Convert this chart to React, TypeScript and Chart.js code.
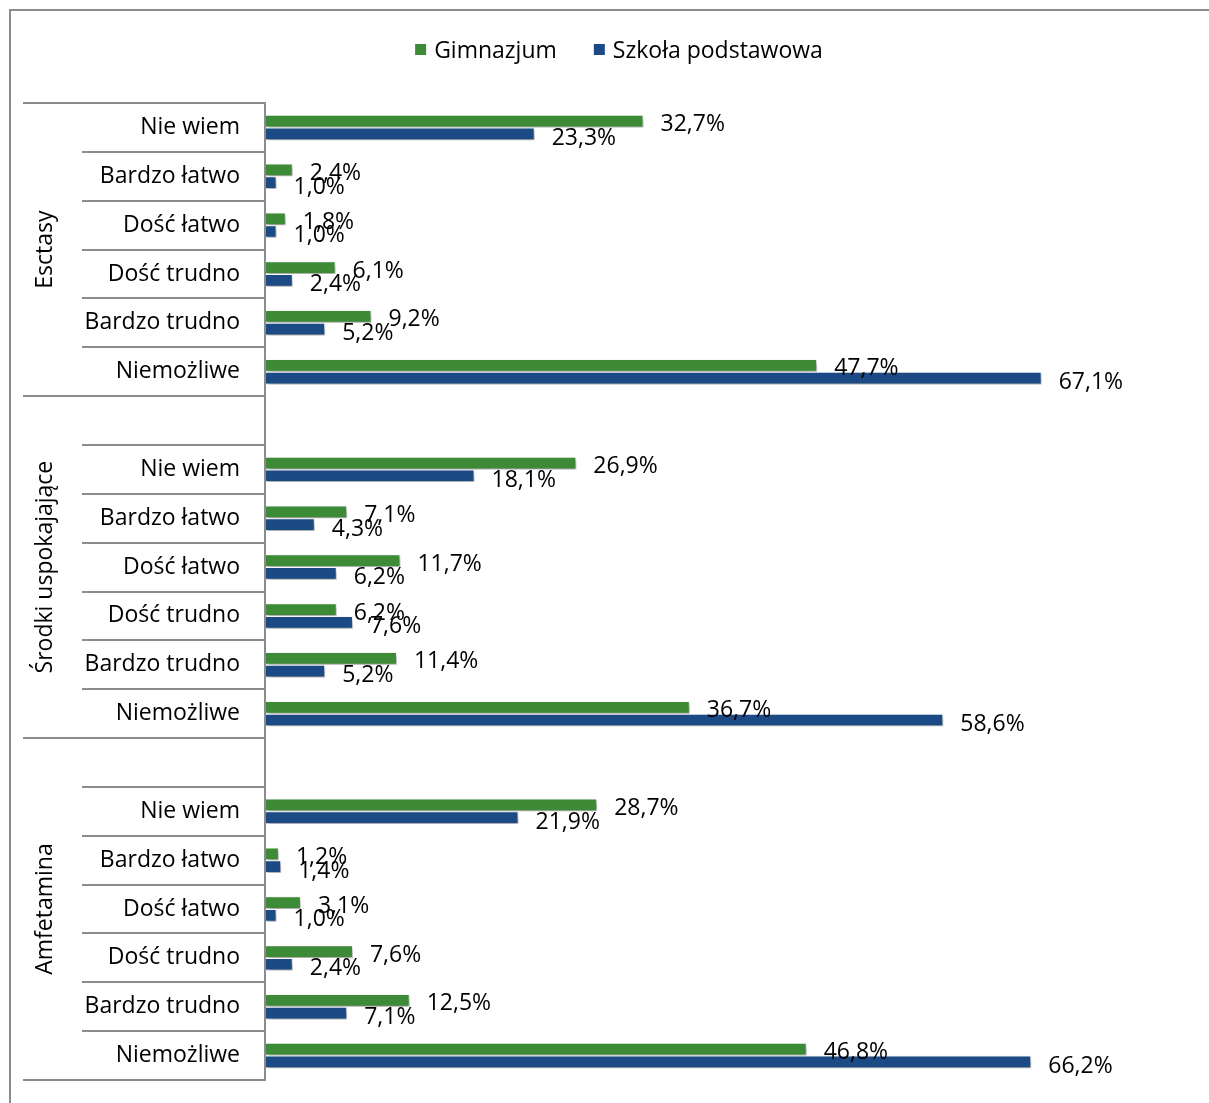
import React, { useEffect, useRef } from 'react';
import { Chart, registerables } from 'chart.js';

Chart.register(...registerables);

// ---- data ----
const groups = ['Esctasy', 'Środki uspokajające', 'Amfetamina'];
const answers = ['Nie wiem', 'Bardzo łatwo', 'Dość łatwo', 'Dość trudno', 'Bardzo trudno', 'Niemożliwe'];
const seriesNames = ['Gimnazjum', 'Szkoła podstawowa'];
const seriesColors = ['#3d8b37', '#1b4a85'];

const gimEcstasy = [32.7, 2.4, 1.8, 6.1, 9.2, 47.7];
const gimSrodki = [26.9, 7.1, 11.7, 6.2, 11.4, 36.7];
const gimAmfetamina = [28.7, 1.2, 3.1, 7.6, 12.5, 46.8];

const spEcstasy = [23.3, 1.0, 1.0, 2.4, 5.2, 67.1];
const spSrodki = [18.1, 4.3, 6.2, 7.6, 5.2, 58.6];
const spAmfetamina = [21.9, 1.4, 1.0, 2.4, 7.1, 66.2];

const axisMin = 0;
const axisMax = 80;

const FONT = "'Open Sans', 'Noto Sans', sans-serif";
const FS = 23;
const GRAY = '#8c8c8c';

const fmt = (v: number) => v.toFixed(1).replace('.', ',') + '%';

export default function App() {
  const ref = useRef<HTMLCanvasElement>(null);

  useEffect(() => {
    const canvas = ref.current;
    if (!canvas) return;

    // rows: group 1 (6 rows), blank + group 2, blank + group 3
    const rowLabels: string[] = [...answers, '', ...answers, '', ...answers];
    const gim: (number | null)[] = [...gimEcstasy, null, ...gimSrodki, null, ...gimAmfetamina];
    const sp: (number | null)[] = [...spEcstasy, null, ...spSrodki, null, ...spAmfetamina];
    const n1 = answers.length;
    const groupBounds = [0, n1, n1 + 1 + n1, n1 + 1 + n1 + 1 + n1];

    const decor = {
      id: 'decor',
      beforeDatasetsDraw(chart: any) {
        const ctx = chart.ctx;
        ctx.save();
        ctx.shadowColor = 'rgba(0,0,0,0.38)';
        ctx.shadowBlur = 5;
        ctx.shadowOffsetX = 2;
        ctx.shadowOffsetY = 3;
      },
      afterDatasetsDraw(chart: any) {
        const ctx = chart.ctx;
        ctx.restore();
        ctx.save();
        ctx.font = `${FS}px ${FONT}`;
        ctx.fillStyle = '#000';
        ctx.textAlign = 'left';
        ctx.textBaseline = 'alphabetic';
        chart.data.datasets.forEach((ds: any, di: number) => {
          const meta = chart.getDatasetMeta(di);
          meta.data.forEach((el: any, i: number) => {
            const v = ds.data[i];
            if (v == null) return;
            ctx.fillText(fmt(v), el.x + 17, el.y + 10 + di);
          });
        });
        ctx.restore();
      },
      afterDraw(chart: any) {
        const ctx = chart.ctx;
        const y = chart.scales.y;
        const area = chart.chartArea;
        const half = (y.getPixelForValue(1) - y.getPixelForValue(0)) / 2;
        const boundary = (i: number) =>
          i < rowLabels.length ? y.getPixelForValue(i) - half : y.getPixelForValue(rowLabels.length - 1) + half;

        ctx.save();
        // outer frame
        ctx.strokeStyle = GRAY;
        ctx.lineWidth = 2;
        ctx.beginPath();
        ctx.moveTo(10, chart.height);
        ctx.lineTo(10, 10);
        ctx.lineTo(chart.width, 10);
        ctx.stroke();

        // row separators
        for (let i = 0; i <= rowLabels.length; i++) {
          const yy = Math.round(boundary(i));
          const isGroup = groupBounds.includes(i);
          ctx.beginPath();
          ctx.moveTo(isGroup ? 23 : 82, yy);
          ctx.lineTo(area.left, yy);
          ctx.stroke();
        }

        // group labels
        ctx.fillStyle = '#000';
        ctx.font = `${FS}px ${FONT}`;
        ctx.textAlign = 'center';
        ctx.textBaseline = 'alphabetic';
        groups.forEach((g, gi) => {
          const cy = (boundary(groupBounds[gi]) + boundary(groupBounds[gi + 1])) / 2;
          ctx.save();
          ctx.translate(52, cy);
          ctx.rotate(-Math.PI / 2);
          ctx.fillText(g, 0, 0);
          ctx.restore();
        });

        // legend
        ctx.textAlign = 'left';
        const box = 11;
        const gapText = 8;
        const gapItem = 37;
        const widths = seriesNames.map((s) => ctx.measureText(s).width);
        const total = widths.reduce((a, w) => a + box + gapText + w, 0) + gapItem * (seriesNames.length - 1);
        let x = 619 - total / 2;
        seriesNames.forEach((s, si) => {
          ctx.fillStyle = seriesColors[si];
          ctx.fillRect(x, 44, box, box);
          ctx.fillStyle = '#000';
          ctx.fillText(s, x + box + gapText, 58);
          x += box + gapText + widths[si] + gapItem;
        });
        ctx.restore();
      },
    };

    const chart = new Chart(canvas, {
      type: 'bar',
      data: {
        labels: rowLabels,
        datasets: [
          {
            label: seriesNames[0],
            data: gim,
            backgroundColor: seriesColors[0],
            borderColor: '#ffffff',
            borderWidth: 1,
            categoryPercentage: 0.52,
            barPercentage: 1,
          },
          {
            label: seriesNames[1],
            data: sp,
            backgroundColor: seriesColors[1],
            borderColor: '#ffffff',
            borderWidth: 1,
            categoryPercentage: 0.52,
            barPercentage: 1,
          },
        ],
      },
      options: {
        indexAxis: 'y',
        responsive: false,
        animation: false,
        layout: { padding: { top: 103, bottom: 23, left: 0, right: 18 } },
        plugins: {
          legend: { display: false },
          tooltip: { enabled: false },
        },
        scales: {
          x: {
            display: false,
            min: axisMin,
            max: axisMax,
          },
          y: {
            afterFit: (s: any) => {
              s.width = 265;
              s.paddingTop = 0;
              s.paddingBottom = 0;
            },
            grid: { display: false, drawTicks: false },
            border: { display: true, color: GRAY, width: 2, z: 1 },
            ticks: {
              autoSkip: false,
              padding: 25,
              color: '#000',
              font: { family: FONT, size: FS },
            },
          },
        },
      },
      plugins: [decor],
    } as any);

    return () => chart.destroy();
  }, []);

  return (
    <div style={{ position: 'fixed', left: 0, top: 0, width: 1209, height: 1103, background: '#fff' }}>
      <canvas ref={ref} width={1209} height={1103} style={{ display: 'block' }} />
    </div>
  );
}
